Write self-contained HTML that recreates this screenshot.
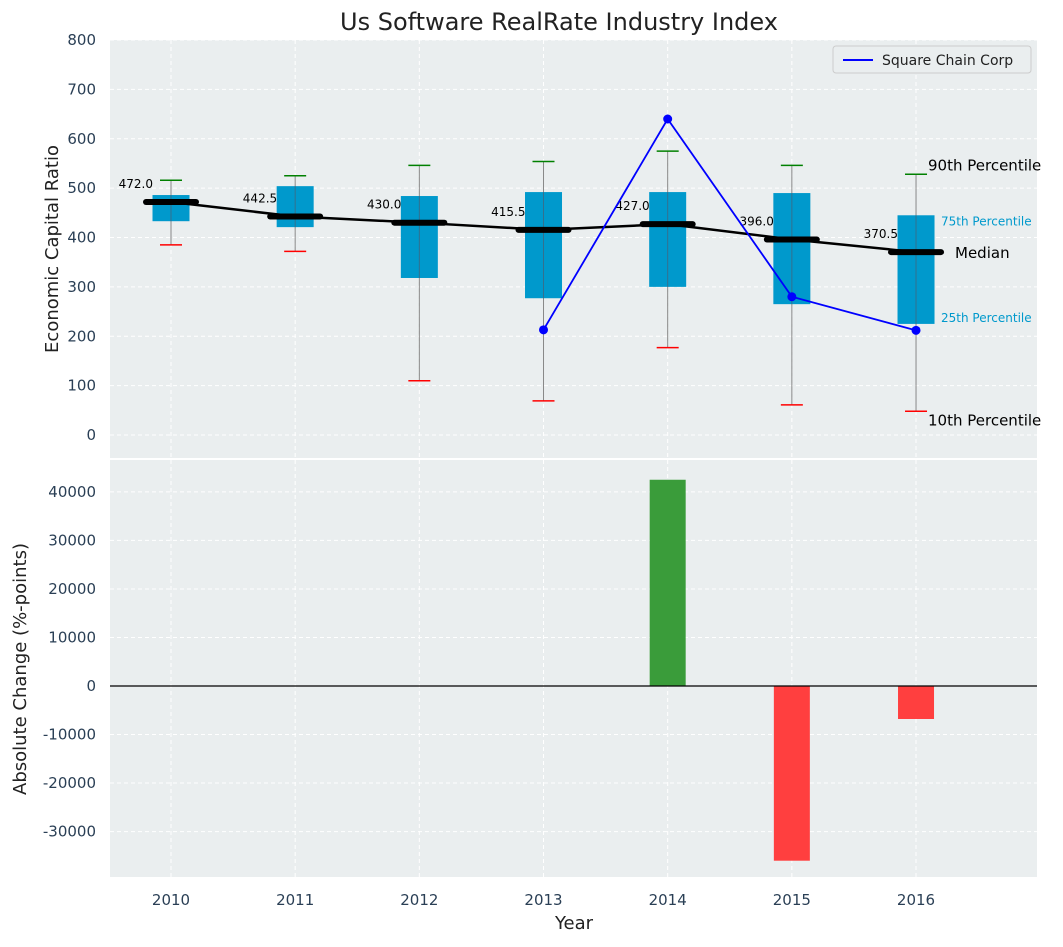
<!DOCTYPE html>
<html><head><meta charset="utf-8"><style>
body{margin:0;background:#fff;font-family:"Liberation Sans","DejaVu Sans",sans-serif}
svg text{font-family:"DejaVu Sans","Liberation Sans",sans-serif}
</style></head><body>
<svg id="chart" width="1063" height="942" xmlns="http://www.w3.org/2000/svg">
<text x="559" y="30" font-size="24" text-anchor="middle" fill="#222">Us Software RealRate Industry Index</text>
<rect x="110" y="40" width="927" height="418" fill="#eaeeef"/>
<rect x="110" y="460" width="927" height="417" fill="#eaeeef"/>
<g id="gtop"></g><g id="gbot"></g>
<text x="58" y="249" font-size="18" fill="#222" text-anchor="middle" transform="rotate(-90 58 249)">Economic Capital Ratio</text>
<text x="26" y="669" font-size="18" fill="#222" text-anchor="middle" transform="rotate(-90 26 669)">Absolute Change (%-points)</text>
<text x="574" y="929" font-size="18" fill="#222" text-anchor="middle">Year</text>
<g>
<rect x="833" y="46" width="198" height="27" rx="3" fill="#eaeeef" stroke="#ccc"/>
<line x1="843" y1="60" x2="873" y2="60" stroke="blue" stroke-width="2"/>
<text x="882" y="65" font-size="14" fill="#222">Square Chain Corp</text>
</g>
</svg>
<script>
const years=["2010","2011","2012","2013","2014","2015","2016"];
const p10=[385,372,110,69,177,61,48];
const q1=[433,421,318,277,300,265,225];
const med=[472,442.5,430,415.5,427,396,370.5];
const q3=[486,504,484,492,492,490,445];
const p90=[516,525,546,554,575,546,528];
const lineYears=[3,4,5,6];
const lineVals=[213,640,280,212];
const changes=[0,0,0,0,42500,-36000,-6800];
const topTicks=[0,100,200,300,400,500,600,700,800];
const botTicks=[-30000,-20000,-10000,0,10000,20000,30000,40000];

const NS="http://www.w3.org/2000/svg";
const X=i=>171+i*124.17;
const Yt=v=>435-v*0.49375;
const Yb=v=>686-v*0.004853;
function mk(p,t,a){const e=document.createElementNS(NS,t);for(const k in a)e.setAttribute(k,a[k]);p.appendChild(e);return e;}
const gTop=document.getElementById('gtop'),gBot=document.getElementById('gbot');
topTicks.forEach(v=>{const y=Yt(v);
 const g=mk(gTop,'line',{x1:110,x2:1037,y1:y,y2:y,stroke:'#fff','stroke-dasharray':'4 3'});
 
 
 const t=mk(gTop,'text',{x:96,y:y+5,'font-size':15,fill:'#2a3f55','text-anchor':'end'});t.textContent=v;
 
 });
botTicks.forEach(v=>{const y=Yb(v);
 const g=mk(gBot,'line',{x1:110,x2:1037,y1:y,y2:y,stroke:'#fff','stroke-dasharray':'4 3'});
 
 
 const t=mk(gBot,'text',{x:96,y:y+5,'font-size':15,fill:'#2a3f55','text-anchor':'end'});t.textContent=v;
 
 });
years.forEach((yr,i)=>{const x=X(i);
 mk(gTop,'line',{x1:x,x2:x,y1:40,y2:458,stroke:'#fff','stroke-dasharray':'4 3'});
 mk(gBot,'line',{x1:x,x2:x,y1:460,y2:877,stroke:'#fff','stroke-dasharray':'4 3'});
 const t=mk(gBot,'text',{x:x,y:905,'font-size':15,fill:'#2a3f55','text-anchor':'middle'});t.textContent=yr;
 
 });
years.forEach((yr,i)=>{const x=X(i);
 const w=mk(gTop,'line',{x1:x,x2:x,y1:Yt(p90[i]),y2:Yt(p10[i]),stroke:'#888','stroke-width':1});
 
 
 const b=mk(gTop,'rect',{x:x-18.5,y:Yt(q3[i]),width:37,height:Yt(q1[i])-Yt(q3[i]),fill:'#0099cc'});
 
 
 mk(gTop,'line',{x1:x,x2:x,y1:Yt(q3[i]),y2:Yt(q1[i]),stroke:'#556','stroke-width':1,opacity:0.6});
 mk(gTop,'line',{x1:x-11,x2:x+11,y1:Yt(p90[i]),y2:Yt(p90[i]),stroke:'green','stroke-width':1.5});
 mk(gTop,'line',{x1:x-11,x2:x+11,y1:Yt(p10[i]),y2:Yt(p10[i]),stroke:'red','stroke-width':1.5});
});
let pts=med.map((v,i)=>X(i)+','+Yt(v)).join(' ');
const ml=mk(gTop,'polyline',{points:pts,fill:'none',stroke:'#000','stroke-width':2.5});


years.forEach((yr,i)=>{const x=X(i),y=Yt(med[i]);
 const m=mk(gTop,'line',{x1:x-25,x2:x+25,y1:y,y2:y,stroke:'#000','stroke-width':6,'stroke-linecap':'round'});
 
 
 const t=mk(gTop,'text',{x:x-18,y:y-14,'font-size':12,fill:'#000','text-anchor':'end'});t.textContent=med[i].toFixed(1);
 
 });
const lp=mk(gTop,'polyline',{points:lineYears.map((k,j)=>X(k)+','+Yt(lineVals[j])).join(' '),fill:'none',stroke:'blue','stroke-width':1.8});


lineYears.forEach((k,j)=>{const c=mk(gTop,'circle',{cx:X(k),cy:Yt(lineVals[j]),r:4.5,fill:'blue'});
 
 });
const L=6,ax=X(L);
[[p90[L],'90th Percentile',15,'#000',12,-4],[q3[L],'75th Percentile',12,'#0099cc',25,10],[med[L],'Median',15,'#000',39,6],[q1[L],'25th Percentile',12,'#0099cc',25,-2],[p10[L],'10th Percentile',15,'#000',12,14]].forEach(a=>{
 const t=mk(gTop,'text',{x:ax+a[4],y:Yt(a[0])+a[5],'font-size':a[2],fill:a[3]});t.textContent=a[1];
 
 });
changes.forEach((v,i)=>{if(!v)return;const y0=Yb(0),y1=Yb(v);
 const r=mk(gBot,'rect',{x:X(i)-18,y:Math.min(y0,y1),width:36,height:Math.abs(y1-y0),fill:v>0?'#3a9c3a':'#ff3f3f'});
 
 });
const z=mk(gBot,'line',{x1:110,x2:1037,y1:Yb(0),y2:Yb(0),stroke:'#000','stroke-width':1.2});


</script>
</body></html>
